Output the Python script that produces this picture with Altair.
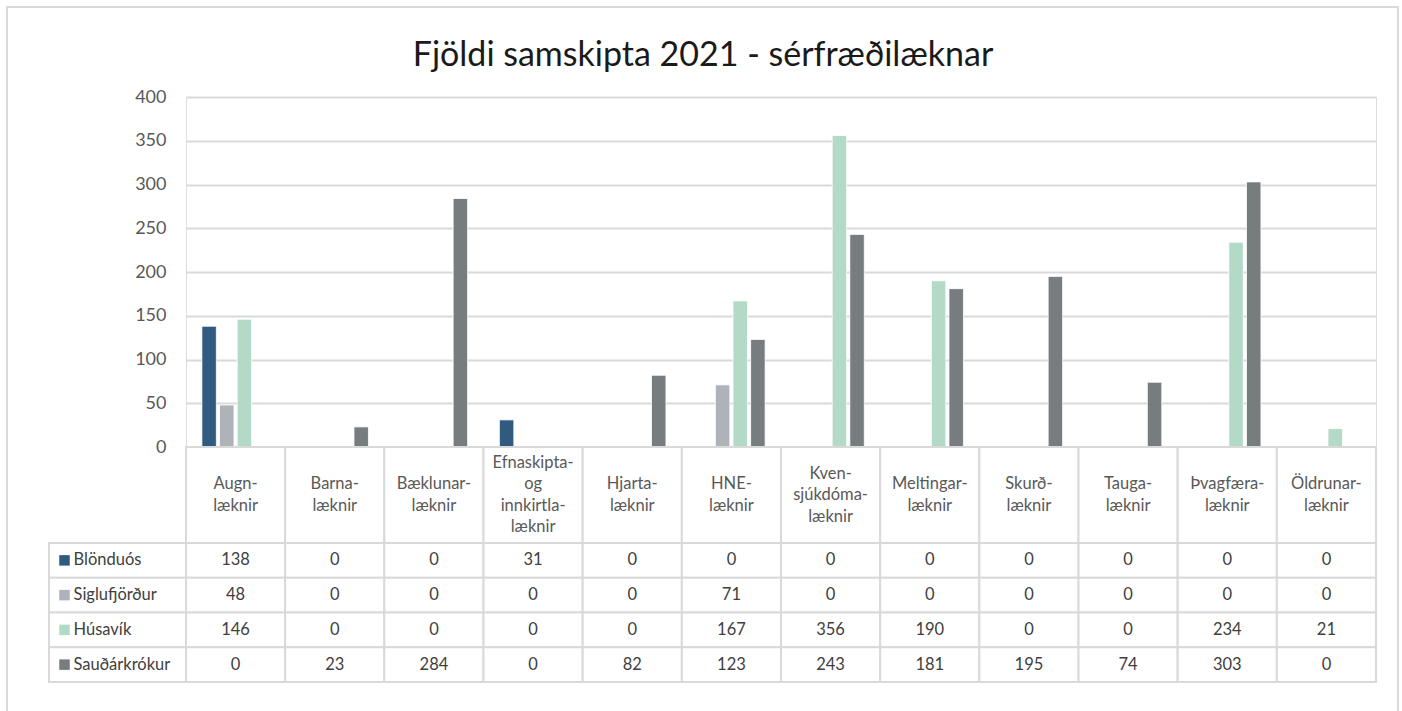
import altair as alt
import pandas as pd

# Specialist categories (header text, hyphenated as printed)
categories = [
    "Augn-\nlæknir",
    "Barna-\nlæknir",
    "Bæklunar-\nlæknir",
    "Efnaskipta-\nog\ninnkirtla-\nlæknir",
    "Hjarta-\nlæknir",
    "HNE-\nlæknir",
    "Kven-\nsjúkdóma-\nlæknir",
    "Meltingar-\nlæknir",
    "Skurð-\nlæknir",
    "Tauga-\nlæknir",
    "Þvagfæra-\nlæknir",
    "Öldrunar-\nlæknir",
]

series = ["Blönduós", "Siglufjörður", "Húsavík", "Sauðárkrókur"]
colors = ["#305a80", "#adb3b8", "#b3dac6", "#777c7f"]

blonduos = [138, 0, 0, 31, 0, 0, 0, 0, 0, 0, 0, 0]
siglufjordur = [48, 0, 0, 0, 0, 71, 0, 0, 0, 0, 0, 0]
husavik = [146, 0, 0, 0, 0, 167, 356, 190, 0, 0, 234, 21]
saudarkrokur = [0, 23, 284, 0, 82, 123, 243, 181, 195, 74, 303, 0]

y_ticks = [0, 50, 100, 150, 200, 250, 300, 350, 400]

title_text = "Fjöldi samskipta 2021 - sérfræðilæknar"

rows = []
for name, vals in zip(series, [blonduos, siglufjordur, husavik, saudarkrokur]):
    for cat, v in zip(categories, vals):
        rows.append({"category": cat, "series": name, "value": v})
df = pd.DataFrame(rows)
cat_df = pd.DataFrame(
    {"category": categories, "n_lines": [c.count("\n") + 1 for c in categories]}
)
legend_df = pd.DataFrame({"series": series, "column": ["names"] * len(series)})

FONT = "Lato"
GRID = "#d9d9d9"
TEXT = "#404040"
TABLE_FS = 16.5
LINE_H = 21.5

x_scale = alt.Scale(domain=categories, paddingInner=0, paddingOuter=0)
color_scale = alt.Scale(domain=series, range=colors)

# --- grouped bars -----------------------------------------------------------
bars = (
    alt.Chart(df)
    .transform_filter("datum.value > 0")
    .mark_bar(stroke="white", strokeWidth=0.8)
    .encode(
        x=alt.X("category:N", scale=x_scale, axis=None, sort=categories),
        xOffset=alt.XOffset(
            "series:N",
            scale=alt.Scale(domain=series, paddingInner=0.18, paddingOuter=0.9),
        ),
        y=alt.Y(
            "value:Q",
            scale=alt.Scale(domain=[0, 400], nice=False),
            axis=alt.Axis(
                values=y_ticks,
                title=None,
                domain=False,
                ticks=False,
                grid=True,
                gridColor=GRID,
                gridWidth=2,
                labelPadding=20,
                labelFont=FONT,
                labelFontSize=18,
                labelColor="#595959",
            ),
        ),
        color=alt.Color("series:N", scale=color_scale, legend=None),
    )
    .properties(
        width=1190,
        height=350,
        title=alt.TitleParams(
            title_text,
            font=FONT,
            fontSize=34,
            fontWeight="normal",
            color="#1a1a1a",
            anchor="middle",
            frame="group",
            dx=-78,
            offset=15,
        ),
    )
)

# --- table header row -------------------------------------------------------
hdr = alt.Chart(cat_df).encode(
    x=alt.X("category:N", scale=x_scale, axis=None, sort=categories)
)
header = alt.layer(
    hdr.mark_rect(fill="white", stroke=GRID, strokeWidth=2),
    hdr.mark_text(
        font=FONT, fontSize=TABLE_FS, color="#595959", lineBreak="\n",
        lineHeight=LINE_H, baseline="middle", align="center",
        dy=alt.expr(f"-(datum.n_lines - 1) * {LINE_H / 2}"),
    ).encode(text="category:N"),
).properties(width=1190, height=96)

# --- table body with series legend column -----------------------------------
y_rows = alt.Y(
    "series:N",
    scale=alt.Scale(domain=series, paddingInner=0, paddingOuter=0),
    axis=None,
    sort=series,
)
body = alt.Chart(df).encode(
    x=alt.X("category:N", scale=x_scale, axis=None, sort=categories),
    y=y_rows,
)
body_cells = body.mark_rect(fill="white", stroke=GRID, strokeWidth=2)
body_text = body.mark_text(font=FONT, fontSize=TABLE_FS, color=TEXT).encode(
    text="value:Q"
)

legend_scale = alt.Scale(domain=["names"], range=[-137, 0], paddingInner=0, paddingOuter=0)
leg = alt.Chart(legend_df).encode(
    x=alt.X("column:N", scale=legend_scale, axis=None), y=y_rows
)
leg_cells = leg.mark_rect(fill="white", stroke=GRID, strokeWidth=2)
leg_swatch = leg.mark_square(size=110, opacity=1).encode(
    xOffset=alt.value(-53),
    color=alt.Color("series:N", scale=color_scale, legend=None),
)
leg_text = leg.mark_text(
    font=FONT, fontSize=TABLE_FS, color=TEXT, align="left", dx=-44
).encode(text="series:N")

# outer border of the whole figure
frame = (
    alt.Chart(alt.Data(values=[{"k": 0}]))
    .mark_rect(filled=False, stroke=GRID, strokeWidth=2)
    .encode(
        x=alt.value(-179),
        x2=alt.value(1212),
        y=alt.value(-536),
        y2=alt.value(169),
    )
)

table = (
    alt.layer(frame, body_cells, body_text, leg_cells, leg_swatch, leg_text)
    .resolve_scale(x="independent")
    .properties(width=1190, height=139)
)

chart = (
    alt.vconcat(bars, header, table, spacing=0, bounds="flush")
    .properties(padding={"left": 5, "top": 5, "right": 0, "bottom": 0})
    .configure_view(stroke=None)
    .configure(background="white")
)

chart.save("out.html", embed_options={"renderer": "svg", "actions": False})
